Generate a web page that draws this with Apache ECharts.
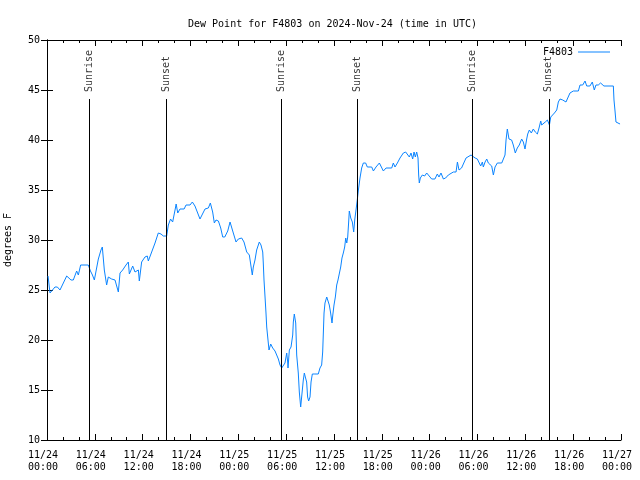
<!DOCTYPE html>
<html>
<head>
<meta charset="utf-8">
<script src="https://cdn.jsdelivr.net/npm/echarts@6/dist/echarts.min.js"></script>
<style>html,body{margin:0;padding:0;background:#fff}#c{width:640px;height:480px}</style>
</head>
<body>
<div id="c"></div>
<script>
// Hours since 2024-11-24 00:00 UTC
const timeHours = [0.13,0.38,0.6,1.0,1.3,1.63,2.47,3.01,3.3,3.72,3.93,4.22,5.18,5.45,5.7,5.94,6.44,6.77,6.94,7.19,7.48,7.69,8.11,8.53,8.95,9.16,9.49,9.91,10.2,10.33,10.75,11.04,11.46,11.58,11.87,12.29,12.58,12.71,13.13,13.55,13.96,14.3,14.59,14.8,15.01,15.22,15.5,15.76,16.06,16.2,16.4,16.68,17.2,17.44,17.94,18.23,18.56,19.19,19.82,20.24,20.49,20.78,20.99,21.2,21.5,21.79,22.04,22.3,22.67,22.96,23.17,23.37,23.71,24.0,24.42,24.71,25.05,25.38,25.6,25.75,25.88,26.09,26.3,26.63,26.84,27.06,27.13,27.22,27.35,27.47,27.56,27.76,27.85,28.06,28.31,28.6,28.81,29.02,29.23,29.44,29.64,29.85,30.07,30.19,30.23,30.4,30.61,30.82,30.9,31.02,31.2,31.32,31.52,31.65,31.82,32.03,32.15,32.28,32.4,32.57,32.69,32.82,32.99,33.12,33.28,33.6,34.03,34.24,34.45,34.58,34.75,34.87,35.09,35.2,35.41,35.58,35.75,35.85,36.0,36.17,36.34,36.5,36.65,36.84,37.0,37.17,37.34,37.47,37.6,37.72,37.84,37.92,38.1,38.3,38.47,38.6,38.76,38.92,39.06,39.26,39.47,39.68,39.97,40.18,40.73,40.94,41.27,41.69,41.94,42.19,42.53,43.24,43.44,43.65,43.95,44.28,44.5,44.7,44.99,45.24,45.45,45.66,45.87,46.04,46.2,46.37,46.54,46.62,46.7,46.83,47.08,47.37,47.63,47.83,48.25,48.66,48.96,49.17,49.42,49.72,50.0,50.34,50.55,50.97,51.31,51.48,51.68,52.0,52.22,52.56,52.8,53.19,53.4,53.7,53.98,54.23,54.4,54.61,54.73,54.95,55.16,55.36,55.57,55.78,55.99,56.2,56.49,57.04,57.24,57.45,57.58,57.74,57.95,58.28,58.49,58.74,58.99,59.24,59.54,59.75,59.96,60.17,60.3,60.5,60.75,61.0,61.25,61.51,61.72,61.93,62.05,62.26,62.5,62.77,63.02,63.19,63.44,63.65,63.94,64.14,64.35,64.69,65.1,65.32,65.6,66.02,66.65,66.86,67.2,67.49,67.7,68.1,68.4,68.65,68.86,69.15,69.44,69.65,69.86,71.04,71.12,71.25,71.37,71.5,71.88];
const dewPointF = [26.4,24.7,24.8,25.3,25.3,25.0,26.4,26.0,26.0,26.9,26.5,27.5,27.5,26.9,26.5,26.0,28.1,29.0,29.3,27.0,25.5,26.3,26.1,26.0,24.8,26.7,27.0,27.5,27.8,26.6,27.4,26.8,27.0,25.9,27.8,28.3,28.4,27.9,28.8,29.7,30.7,30.6,30.4,30.2,30.4,31.5,32.1,31.8,33.0,33.6,32.7,33.1,33.1,33.5,33.5,33.8,33.4,32.1,33.1,33.2,33.7,32.8,31.7,32.0,31.9,31.2,30.3,30.3,30.9,31.8,31.6,30.7,29.8,30.1,30.2,29.8,28.8,28.5,28.5,26.5,27.3,28.0,29.0,29.8,29.5,28.8,27.7,26.0,24.3,22.7,21.3,19.7,19.0,19.6,19.2,18.9,18.5,18.1,17.5,17.2,17.1,17.7,18.7,17.8,17.2,19.0,19.3,20.5,21.8,22.6,21.7,18.5,16.7,14.8,13.3,13.3,16.0,16.7,16.3,15.8,14.3,13.9,14.3,15.8,16.6,16.6,16.6,17.2,17.5,18.8,22.7,23.7,24.3,24.3,23.5,22.7,21.7,22.5,23.5,24.3,25.5,26.0,26.0,27.3,28.2,28.7,29.3,30.2,29.7,30.3,31.8,32.9,32.2,31.8,30.8,32.0,33.0,34.0,35.0,36.2,37.2,37.7,37.7,37.3,37.3,36.9,37.3,37.7,37.7,36.9,37.2,37.2,37.7,37.3,37.7,38.2,38.2,38.7,38.8,39.0,38.3,38.7,38.1,38.8,38.3,38.8,38.2,36.5,35.7,36.2,36.5,36.4,36.7,36.6,36.1,36.1,36.6,36.3,36.7,36.1,36.2,36.5,36.3,36.8,36.8,37.8,37.0,37.2,37.3,38.2,38.2,38.5,38.6,38.2,38.1,37.9,37.4,37.8,37.3,37.8,38.1,37.7,37.8,37.4,36.5,37.3,37.7,37.7,37.8,38.5,40.0,41.1,40.1,40.0,39.5,38.7,39.2,39.5,40.1,39.8,39.1,40.1,40.6,41.0,40.7,41.1,40.8,40.6,41.2,41.9,41.5,41.3,41.8,42.0,41.5,42.3,42.2,42.7,43.0,43.8,44.1,44.0,43.8,44.2,44.7,44.9,44.9,45.5,45.5,45.9,45.4,45.4,45.8,45.0,45.5,45.5,45.7,45.9,45.4,45.4,44.0,42.9,41.8,41.6,41.6];
const tickLabels = ['11/24\n00:00','11/24\n06:00','11/24\n12:00','11/24\n18:00','11/25\n00:00','11/25\n06:00','11/25\n12:00','11/25\n18:00','11/26\n00:00','11/26\n06:00','11/26\n12:00','11/26\n18:00','11/27\n00:00'];
const sunNames = ['Sunrise','Sunset','Sunrise','Sunset','Sunrise','Sunset'];
const sunHours = [5.35,14.95,29.35,38.95,53.35,62.95];
const sunLineTop = 44.1;
const sunLabelBase = 44.8;

const FONT = 'DejaVu Sans Mono';
const chart = echarts.init(document.getElementById('c'), null, {renderer:'canvas'});
const axisCommon = {
  axisLine:{show:true, lineStyle:{color:'#000', width:1}},
  axisTick:{show:true, inside:true, length:6, lineStyle:{color:'#000'}},
  splitLine:{show:false}
};
chart.setOption({
  animation:false,
  backgroundColor:'#fff',
  textStyle:{fontFamily:FONT},
  title:{text:'Dew Point for F4803 on 2024-Nov-24 (time in UTC)', left:183, top:14,
    textStyle:{fontFamily:FONT, fontSize:10, fontWeight:'normal', color:'#000'}},
  legend:{data:[{name:'F4803', icon:'rect'}], right:25, top:42, align:'right', itemWidth:32, itemHeight:1,
    textStyle:{fontFamily:FONT, fontSize:10, color:'#000'}},
  grid:{left:47, right:19, top:40, bottom:40, containLabel:false, outerBoundsMode:'none'},
  xAxis:[
    Object.assign({}, axisCommon, {type:'value', min:0, max:72, interval:6, position:'bottom',
      minorTick:{show:true, splitNumber:3, length:3, lineStyle:{color:'#000'}},
      axisLabel:{fontFamily:FONT, fontSize:10, color:'#000', margin:9, lineHeight:12, padding:[0,8,0,0],
        formatter:v => tickLabels[Math.round(v/6)]}}),
    Object.assign({}, axisCommon, {type:'value', min:0, max:72, interval:6, position:'top',
      minorTick:{show:true, splitNumber:3, length:3, lineStyle:{color:'#000'}},
      axisLabel:{show:false}})
  ],
  yAxis:[
    Object.assign({}, axisCommon, {type:'value', min:10, max:50, interval:5, position:'left',
      name:'degrees F', nameLocation:'middle', nameGap:34, nameRotate:90,
      nameTextStyle:{fontFamily:FONT, fontSize:10, color:'#000'},
      axisLabel:{fontFamily:FONT, fontSize:10, color:'#000', margin:7}}),
    Object.assign({}, axisCommon, {type:'value', min:10, max:50, interval:5, position:'right',
      axisLabel:{show:false}})
  ],
  series:[
    {name:'F4803', type:'line', xAxisIndex:0, yAxisIndex:0, showSymbol:false, symbol:'none',
      lineStyle:{color:'#0a84ff', width:1}, itemStyle:{color:'#0a84ff'},
      data:timeHours.map((h,i)=>[h, dewPointF[i]]),
      markLine:{silent:true, symbol:'none', label:{show:false}, lineStyle:{color:'#000', width:1, type:'solid'},
        data:sunHours.map(h=>[{coord:[h,10]},{coord:[h,sunLineTop]}])}
    },
    {name:'sun', type:'scatter', xAxisIndex:0, yAxisIndex:0, symbol:'circle', symbolSize:1, silent:true,
      itemStyle:{color:'rgba(0,0,0,0)'},
      data:sunHours.map((h,i)=>({value:[h, sunLabelBase], name:sunNames[i]})),
      label:{show:true, position:'inside', rotate:90, align:'left', verticalAlign:'middle',
        formatter:p=>p.name, fontFamily:FONT, fontSize:10, color:'#000'}
    }
  ]
});
</script>
</body>
</html>
